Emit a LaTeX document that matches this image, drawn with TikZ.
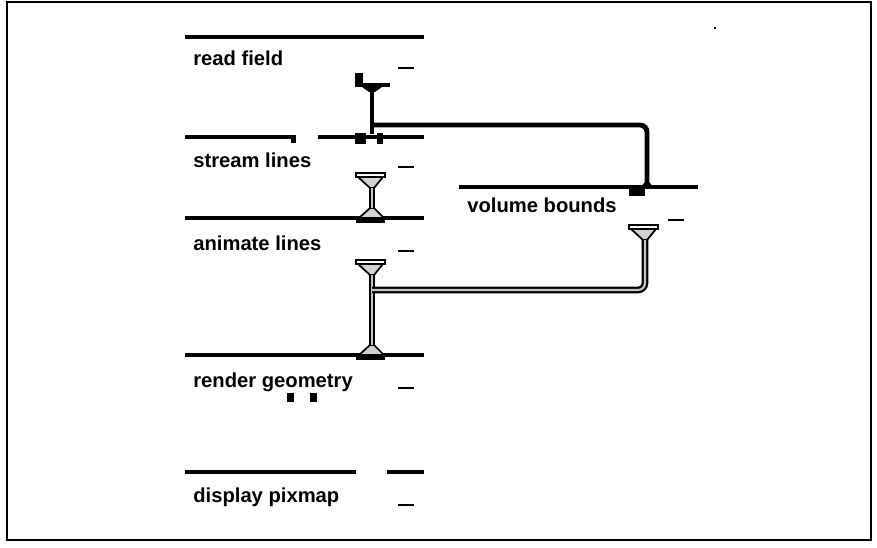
\documentclass[tikz,border=0pt]{standalone}
\usepackage{fontspec}
\setmainfont{Liberation Sans}
\usetikzlibrary{calc,positioning}

\tikzset{
  grayout/.pic={
    \draw[line width=1.3pt,fill=white] (-16,-15) rectangle (13,-11);
    \draw[line width=1pt,fill=gray!35] (-14,-11) -- (11,-11) -- (2,0) -- (-2,0) -- cycle;
  },
  grayin/.pic={
    \draw[line width=1pt,fill=gray!35] (-2,-10) -- (2,-10) -- (12,0) -- (-13,0) -- cycle;
    \fill (-16,0) rectangle (13,5);
  }
}

\begin{document}
\begin{tikzpicture}[x=0.02cm,y=-0.02cm,
  modline/.style={line width=1.9pt},
  modtick/.style={line width=1.7pt},
  modlabel/.style={anchor=base west,inner sep=0,font=\fontsize{11.5}{13}\selectfont\bfseries},
  blacklink/.style={line width=2.8pt,rounded corners=4},
  graylink/.style={draw=black,double=gray!45,double distance=1.2pt,line width=1.3pt,rounded corners=4}]

\useasboundingbox (0,0) rectangle (877,548);
\draw[line width=1.1pt] (7,2) rectangle (871,540);
\fill (714,27) rectangle (716,29);

% modules
\draw[modline] (185,37) -- (424,37);
\draw[modtick] (398,68) -- (414,68);
\node[modlabel] (readfield) at (193,65) {read field};

\draw[modline] (185,137) -- (296,137);
\fill (291,137) rectangle (296,143);
\draw[modline] (318,137) -- (424,137);
\draw[modtick] (398,167) -- (414,167);
\node[modlabel] (streamlines) at (193,167) {stream lines};

\draw[modline] (185,218) -- (424,218);
\draw[modtick] (398,251) -- (414,251);
\node[modlabel] (animatelines) at (193,250) {animate lines};

\draw[modline] (185,355) -- (424,355);
\draw[modtick] (398,388) -- (414,388);
\node[modlabel] (rendergeometry) at (193,387) {render geometry};
\fill (287,393) rectangle (294,402);
\fill (310,393) rectangle (317,402);

\draw[modline] (185,472) -- (356,472);
\draw[modline] (387,472) -- (424,472);
\draw[modtick] (398,505) -- (414,505);
\node[modlabel] (displaypixmap) at (193,502) {display pixmap};

\draw[modline] (459,187) -- (698,187);
\draw[modtick] (668,220) -- (684,220);
\node[modlabel] (volumebounds) at (467,212) {volume bounds};

% ports
\coordinate (rf-out) at (372,90);
\coordinate (rf-split) at (372,125);
\coordinate (sl-in) at (372,134);
\coordinate (vb-in) at (647,184);
\coordinate (sl-out) at (372,188);
\coordinate (al-in) at (372,208);
\coordinate (al-out) at (372,275);
\coordinate (al-join) at (372,290);
\coordinate (rg-in) at (372,345);
\coordinate (vb-out) at (645,240);

\fill (355,73) rectangle (363,86);
\fill (355,83) rectangle (390,87);
\fill (362,87) -- (382,87) -- (375,92) -- (369,92) -- cycle;
\fill (355,133) rectangle (366,144);
\fill (377,133) rectangle (383,144);
\fill (629,185) rectangle (645,196);
\fill (640,188) -- (654,188) -- (649,182) -- (645,182) -- cycle;

\pic at (372,188) {grayout};
\pic at (372,218) {grayin};
\pic at (372,275) {grayout};
\pic at (372,355) {grayin};
\pic at (645,240) {grayout};

% links
\draw[blacklink] (rf-out) -- (sl-in);
\draw[blacklink] (rf-split) -| (vb-in);
\draw[graylink] (sl-out) -- (al-in);
\draw[graylink] (al-out) -- (rg-in);
\draw[graylink] (vb-out) |- (al-join);

\end{tikzpicture}
\end{document}
